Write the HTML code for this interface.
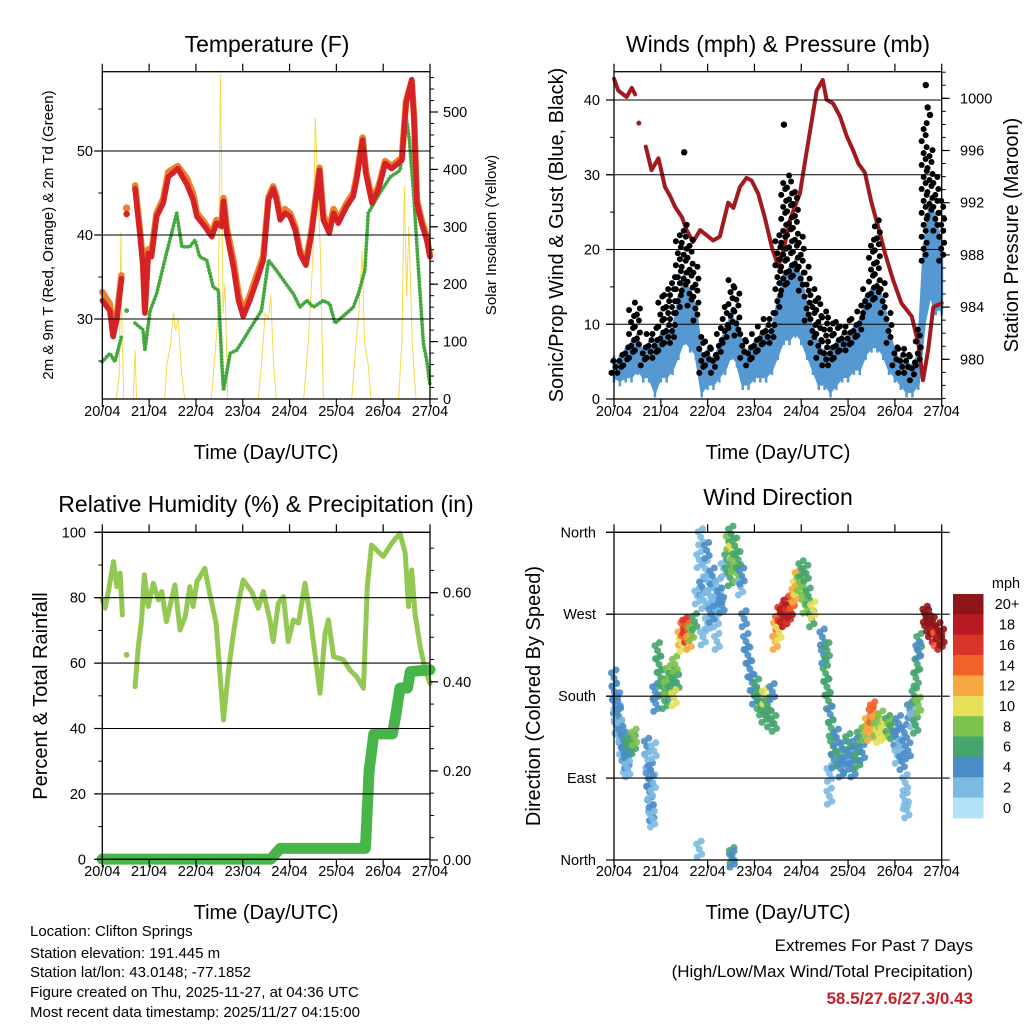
<!DOCTYPE html>
<html><head><meta charset="utf-8"><style>
html,body{margin:0;padding:0;background:#fff;}
svg{display:block;font-family:"Liberation Sans",Arial,sans-serif;}
</style></head><body>
<svg id="fig" width="1024" height="1024" viewBox="0 0 1024 1024" xmlns="http://www.w3.org/2000/svg">
<rect width="1024" height="1024" fill="#fff"/>
<text x="267" y="52" font-size="23" text-anchor="middle">Temperature (F)</text>
<text x="778" y="52" font-size="23" text-anchor="middle">Winds (mph) &amp; Pressure (mb)</text>
<text x="266" y="512" font-size="23" text-anchor="middle">Relative Humidity (%) &amp; Precipitation (in)</text>
<text x="778" y="505" font-size="23" text-anchor="middle">Wind Direction</text>

<text transform="translate(53,235) rotate(-90)" font-size="15" text-anchor="middle">2m &amp; 9m T (Red, Orange) &amp; 2m Td (Green)</text>
<text transform="translate(496,235) rotate(-90)" font-size="15" text-anchor="middle">Solar Insolation (Yellow)</text>
<text transform="translate(563,235) rotate(-90)" font-size="20" text-anchor="middle">Sonic/Prop Wind &amp; Gust (Blue, Black)</text>
<text transform="translate(1018,235) rotate(-90)" font-size="20" text-anchor="middle">Station Pressure (Maroon)</text>
<text transform="translate(47,696) rotate(-90)" font-size="20" text-anchor="middle">Percent &amp; Total Rainfall</text>
<text transform="translate(540,696) rotate(-90)" font-size="20" text-anchor="middle">Direction (Colored By Speed)</text>

<text x="266" y="459" font-size="20" text-anchor="middle">Time (Day/UTC)</text>
<text x="778" y="459" font-size="20" text-anchor="middle">Time (Day/UTC)</text>
<text x="266" y="919" font-size="20" text-anchor="middle">Time (Day/UTC)</text>
<text x="778" y="919" font-size="20" text-anchor="middle">Time (Day/UTC)</text>

<g font-size="15">
<text x="30" y="936">Location: Clifton Springs</text>
<text x="30" y="958">Station elevation: 191.445 m</text>
<text x="30" y="977">Station lat/lon: 43.0148; -77.1852</text>
<text x="30" y="997">Figure created on Thu, 2025-11-27, at 04:36 UTC</text>
<text x="30" y="1017">Most recent data timestamp: 2025/11/27 04:15:00</text>
</g>
<g font-size="17" text-anchor="end">
<text x="973" y="951">Extremes For Past 7 Days</text>
<text x="973" y="977">(High/Low/Max Wind/Total Precipitation)</text>
<text x="973" y="1004" fill="#c8202a" font-weight="bold">58.5/27.6/27.3/0.43</text>
</g>
</svg>
<script>
// ---------- data ----------
const dayLabels = ["20/04","21/04","22/04","23/04","24/04","25/04","26/04","27/04"];
const tempTime = [0,0.16,0.23,0.31,0.41,0.47,0.52,0.56,0.70,0.80,0.87,0.91,0.98,1.05,1.16,1.30,1.41,1.61,1.80,1.94,2.02,2.19,2.34,2.44,2.55,2.59,2.66,2.80,2.91,3.01,3.15,3.30,3.44,3.55,3.65,3.72,3.80,3.90,4.01,4.12,4.22,4.35,4.47,4.64,4.72,4.85,4.94,5.04,5.22,5.36,5.43,5.56,5.63,5.76,5.90,6.04,6.18,6.40,6.49,6.61,6.66,6.72,6.82,6.93,7.0];
const tempRed = [32.2,31.0,27.9,29.9,34.8,null,42.5,null,45.5,40.2,36.2,30.7,37.8,37.4,42.2,43.8,46.9,47.9,46.1,44.2,42.2,41.0,39.8,41.4,41.0,44.0,40.2,36.2,32.2,30.3,32.2,34.6,37.0,44.2,45.5,44.2,41.8,42.6,42.2,40.6,37.8,36.4,40.2,47.7,41.8,40.2,42.6,41.4,43.4,44.6,46.5,51.3,47.3,43.8,45.4,48.5,47.9,48.9,55.7,58.5,53.7,43.8,41.4,39.4,37.4];
const tempOrange = [33.2,31.8,28.5,30.4,35.2,null,43.2,null,45.9,40.8,36.8,31.2,38.3,38.0,42.6,44.3,47.5,48.2,46.8,44.9,42.6,41.4,40.2,41.8,41.3,44.4,40.8,37.0,33.0,30.8,32.8,35.2,37.5,44.5,45.8,44.6,42.3,43.1,42.6,41.0,38.2,36.8,40.6,48.0,42.4,40.8,43.1,41.8,43.8,45.0,46.9,51.6,47.6,44.2,45.8,48.8,48.2,49.2,56.0,58.3,54.0,44.2,41.8,39.8,37.6];
const dewTime = [0,0.16,0.27,0.41,0.47,0.52,0.56,0.70,0.87,0.91,1.02,1.16,1.37,1.59,1.70,1.87,1.98,2.08,2.23,2.37,2.48,2.55,2.59,2.73,2.87,3.01,3.23,3.40,3.55,3.72,3.87,4.08,4.22,4.37,4.51,4.72,4.86,4.97,5.22,5.36,5.47,5.61,5.68,5.93,6.15,6.36,6.50,6.56,6.65,6.75,6.86,6.93,7.0];
const dewVal = [24.9,25.9,24.9,27.9,null,31.0,null,29.5,28.7,26.3,31.0,33.0,37.8,42.6,38.6,38.6,39.4,37.4,37.0,33.8,33.4,25.1,21.5,25.9,26.3,27.5,29.5,31.0,37.0,35.8,34.6,33.0,31.4,32.2,31.4,32.2,31.8,29.5,30.7,31.4,33.0,35.8,42.6,45.0,46.9,47.7,53.7,51.3,45.0,36.2,27.1,25.1,22.1];
const solarTime = [0,0.30,0.36,0.40,0.42,0.46,0.66,0.70,0.73,1.33,1.38,1.45,1.52,1.57,1.62,1.70,1.76,2.33,2.42,2.48,2.52,2.55,2.58,2.62,2.68,3.33,3.40,3.48,3.55,3.60,3.66,3.72,4.30,4.40,4.50,4.55,4.60,4.66,4.72,5.33,5.40,5.48,5.55,5.60,5.68,5.74,6.33,6.40,6.45,6.50,6.55,6.62,6.70,7.0];
const solarVal = [0,0,40,290,120,0,0,85,0,0,60,90,150,120,140,40,0,0,90,160,565,400,150,200,0,0,60,150,140,180,60,0,0,100,250,490,380,250,0,0,80,150,258,100,60,0,0,100,370,180,300,100,0,0];

const windLo = [3,2.5,3,3,4,3,3,1,3,3,4,6,8,7,6,1,2,2,3,4,6,5,2,2,3,3,3,4,6,8,8,9,8,6,4,2,2,1,2,3,3,4,4,6,7,7,6,4,3,2,1,1,2,10,14,12,12];
const windHi = [5,5,6,7,8,6,7,7,8,9,9,13,16,14,12,5,6,5,7,9,11,10,7,6,7,8,9,9,13,16,17,18,16,12,9,7,6,6,7,8,8,9,10,13,14,15,13,9,6,5,5,4,6,20,26,24,20];
const gustMax = [5.5,6.5,7,12,13,7,9,10,14,15,17,22,24,22,18,9,8,7,10,13,16,15,9,8,9,10,11,12,22,29,30,28,22,18,15,14,12,11,11,10,11,11,13,15,22,24,16,12,7,7,7,6,10,37,34,30,27];
const gustOutTime = [1.5,3.63,6.66,6.70,6.75];
const gustOutVal = [33,36.7,42,39,38];
const presTime = [0,0.09,0.27,0.38,0.45,0.49,0.53,0.57,0.68,0.80,0.95,1.09,1.20,1.30,1.45,1.55,1.69,1.84,2.12,2.26,2.44,2.55,2.69,2.83,2.94,3.08,3.22,3.37,3.51,3.62,3.76,3.97,4.11,4.33,4.46,4.54,4.68,4.83,4.97,5.11,5.22,5.36,5.50,5.64,5.79,5.96,6.14,6.36,6.50,6.60,6.71,6.82,7.0];
const presVal = [1001.5,1000.6,1000.1,1000.8,1000.3,null,998.1,null,996.3,994.5,995.4,993.2,992.5,991.7,990.9,989.9,989.0,989.9,989.1,989.4,992.0,991.6,993.2,993.9,993.7,992.7,990.9,988.6,987.1,988.4,990.7,992.7,995.8,1000.6,1001.4,999.9,999.6,998.6,997.1,996.0,995.0,994.3,992.0,990.2,988.1,986.1,984.3,983.3,981.2,978.4,980.7,984.0,984.3];

const rhTime = [0,0.06,0.13,0.24,0.31,0.38,0.43,0.48,0.52,0.56,0.70,0.77,0.84,0.90,0.98,1.09,1.20,1.27,1.37,1.55,1.66,1.77,1.87,1.94,2.02,2.19,2.30,2.43,2.59,2.69,2.80,2.91,3.01,3.19,3.33,3.44,3.58,3.65,3.76,3.87,3.97,4.08,4.19,4.33,4.44,4.65,4.76,4.83,4.94,5.15,5.29,5.43,5.58,5.66,5.75,6.00,6.18,6.36,6.47,6.54,6.61,6.68,6.79,6.90,7.0];
const rhVal = [79.3,76.8,81.9,91.0,83.4,87.5,74.7,null,62.5,null,52.8,65.0,73.2,87.0,77.3,84.4,79.3,81.9,72.7,83.9,70.1,74.2,83.4,77.3,84.9,89.0,80.8,72.2,42.6,56.9,69.1,78.8,85.4,81.9,76.8,81.9,73.2,66.6,78.3,80.3,66.6,73.2,72.2,84.4,74.2,50.8,69.1,73.2,62.0,61.0,57.9,55.9,52.3,83.4,96.1,92.6,96.6,99.7,93.6,77.3,88.5,75.2,65.0,57.9,53.8];
const precipTime = [0,3.6,3.8,5.62,5.70,5.80,6.20,6.26,6.36,6.52,6.58,7.0];
const precipVal = [0.002,0.002,0.026,0.026,0.20,0.283,0.283,0.32,0.386,0.386,0.423,0.427];

const dirTime = [0.00,0.01,0.03,0.05,0.06,0.08,0.10,0.13,0.15,0.16,0.20,0.21,0.24,0.26,0.30,0.33,0.41,0.43,0.27,0.29,0.70,0.72,0.74,0.76,0.78,0.80,0.82,0.83,0.78,0.85,0.88,0.89,0.93,0.96,1.00,1.04,1.08,1.12,1.16,1.20,1.24,1.30,1.34,1.28,1.42,1.45,1.48,1.52,1.55,1.58,1.60,1.65,1.72,1.78,1.82,1.85,1.88,1.92,1.95,1.98,2.02,2.06,2.10,2.14,2.18,2.22,2.26,2.30,2.34,2.00,1.90,2.20,2.08,2.42,2.45,2.48,2.50,2.52,2.55,2.58,2.62,2.65,2.70,2.73,2.52,2.52,1.82,2.78,2.82,2.86,2.90,2.95,3.00,3.05,3.10,3.15,3.20,3.22,3.28,3.32,3.38,3.42,3.44,3.46,3.50,3.55,3.52,3.60,3.64,3.68,3.72,3.76,3.80,3.85,3.88,3.92,3.96,4.00,4.05,4.10,4.08,4.15,4.22,4.25,4.45,4.48,4.52,4.55,4.58,4.62,4.55,4.60,4.60,4.64,4.68,4.70,4.75,4.80,4.85,4.90,4.95,5.00,5.05,5.10,5.15,5.20,5.25,5.30,5.35,5.42,5.46,5.50,5.53,5.56,5.60,5.65,5.70,5.75,5.80,5.85,5.90,5.95,6.02,6.05,6.08,6.12,6.15,6.20,6.22,6.22,6.25,6.28,6.32,6.38,6.42,6.45,6.48,6.52,6.50,6.44,6.50,6.65,6.68,6.72,6.76,6.80,6.84,6.88,6.92,6.96,7.00];
const dirDeg = [200,185,170,160,148,175,158,145,138,125,132,118,105,120,128,122,128,135,110,100,125,110,90,75,62,52,45,85,98,120,185,172,230,215,200,190,175,190,205,185,200,215,195,178,245,238,255,258,248,252,240,250,262,290,330,355,300,285,320,340,305,290,312,280,265,300,290,280,320,260,245,240,270,330,350,310,358,340,325,345,315,330,300,312,5,1,12,265,240,225,210,195,180,190,175,168,160,180,170,155,185,150,240,255,262,272,250,270,265,280,270,275,285,292,300,310,305,320,300,315,280,290,265,275,245,225,205,190,175,160,230,95,70,145,125,110,135,112,100,122,105,130,115,100,125,110,135,118,140,150,140,160,165,152,145,138,155,140,148,150,145,142,135,115,150,125,108,140,85,65,55,120,165,155,180,200,215,240,230,148,170,270,266,260,254,258,248,244,252,240,245];
const dirSpeed = [4,4,4,3,2,4,4,3,4,3,4,4,3,4,6,7,7,8,4,3,4,3,4,4,3,4,3,2,4,2,4,4,6,6,6,7,6,8,8,7,6,8,6,10,12,10,14,16,16,14,13,8,6,3,2,3,4,3,2,4,2,3,4,2,2,3,4,4,3,3,2,3,4,6,8,7,7,10,8,6,8,6,3,4,6,4,3,4,4,4,4,4,5,6,6,7,6,10,6,6,4,6,12,12,14,16,10,18,18,19,16,18,14,12,10,12,8,6,8,6,8,6,6,10,4,4,6,6,6,4,6,2,2,6,6,5,4,6,4,5,4,6,5,4,4,6,7,4,8,12,12,14,15,12,9,10,8,10,10,7,8,6,4,3,4,3,4,4,2,2,3,4,4,3,6,6,6,6,5,6,8,20,20,21,20,20,18,14,22,18,20];
const speedLabels = ["20+","18","16","14","12","10","8","6","4","2","0"];
const speedColors = ["#b3e1f7","#7cb9e3","#4a8dc6","#46a56e","#7cc24d","#e6e05a","#f6a842","#ef6329","#da3428","#b81c22","#8e1519"];

// ---------- helpers ----------
const NS = "http://www.w3.org/2000/svg";
const svg = document.getElementById("fig");
function lin(d0,d1,r0,r1){return v=>r0+(v-d0)*(r1-r0)/(d1-d0);}
function el(tag, attrs, parent){
  const e=document.createElementNS(NS,tag);
  for(const k in attrs) e.setAttribute(k,attrs[k]);
  (parent||svg).appendChild(e); return e;
}
function group(name){
  const g=el("g",{});
  
  
  return g;
}
function linePath(g, xs, ys, sx, sy, stroke, width, name, extra){
  let segs=[],cur=[];
  for(let i=0;i<xs.length;i++){
    if(ys[i]===null){ if(cur.length) segs.push(cur); cur=[]; }
    else cur.push([sx(xs[i]),sy(ys[i])]);
  }
  if(cur.length) segs.push(cur);
  let d="";
  segs.forEach(s=>{
    if(s.length===1){
      const c=el("circle",{cx:s[0][0],cy:s[0][1],r:width/2+0.5,fill:stroke},g);
      
      
    } else d+="M"+s.map(p=>p[0].toFixed(1)+","+p[1].toFixed(1)).join("L");
  });
  const p=el("path",Object.assign({d:d,fill:"none",stroke:stroke,"stroke-width":width,"stroke-linejoin":"round","stroke-linecap":"round"},extra||{}),g);
  
  
  return p;
}
function frame(x0,x1,y0,y1,name){
  const g=group(name);
  const r=el("rect",{x:x0,y:y0,width:x1-x0,height:y1-y0,fill:"none",stroke:"#000","stroke-width":1.3},g);
  
  
  return g;
}
function timeAxis(x0,x1,y0,y1,labY,name){
  const sx=lin(0,7,x0,x1);
  const g=group(name);
  dayLabels.forEach((lb,i)=>{
    const x=sx(i);
    el("line",{x1:x,x2:x,y1:y0,y2:y0-8,stroke:"#000","stroke-width":1.2},g);
    el("line",{x1:x,x2:x,y1:y1,y2:y1+8,stroke:"#000","stroke-width":1.2},g);
    const t=el("text",{x:x,y:labY,"font-size":14.5,"text-anchor":"middle"},g);
    t.textContent=lb;
    
    
  });
  return sx;
}
function yAxis(opts){
  const g=group(opts.name);
  opts.minors.forEach(v=>{
    const y=opts.scale(v);
    el("line",{x1:opts.x,x2:opts.x+opts.side*4,y1:y,y2:y,stroke:"#000","stroke-width":1},g);
  });
  opts.majors.forEach((v,i)=>{
    const y=opts.scale(v);
    el("line",{x1:opts.x,x2:opts.x+opts.side*8,y1:y,y2:y,stroke:"#000","stroke-width":1.2},g);
    if(opts.grid) el("line",{x1:opts.grid[0],x2:opts.grid[1],y1:y,y2:y,stroke:"#000","stroke-width":1.1},g);
    if(opts.labels){
      const t=el("text",{x:opts.labX,y:y+5,"font-size":14.5,"text-anchor":opts.anchor},g);
      t.textContent=opts.labels[i];
      
      
    }
  });
}
function range(a,b,s){const r=[];for(let v=a;v<=b+1e-9;v+=s)r.push(+v.toFixed(4));return r;}

// ---------- Panel 1: Temperature ----------
(function(){
  const X0=102.3,X1=430,Y0=71.7,Y1=399;
  const sx=lin(0,7,X0,X1), sy=lin(30,50,319,151), ss=lin(0,500,399,112);
  const g=group("temperature-panel");
  linePath(g,solarTime,solarVal,sx,ss,"#f8d94a",1,"solar-line");
  linePath(g,dewTime,dewVal,sx,sy,"#45a83f",3.8,"dewpoint-line",{"stroke-dasharray":"0.1 3.2"});
  linePath(g,tempTime,tempOrange,sx,sy,"#f07f2c",6.5,"temp-9m-line");
  linePath(g,tempTime,tempRed,sx,sy,"#d52227",5.5,"temp-2m-line");
  yAxis({name:"temperature-y-axis",x:X0,side:-1,scale:sy,majors:[30,40,50],minors:[25,35,45,55],labels:["30","40","50"],grid:[X0-8,X1],labX:93,anchor:"end"});
  yAxis({name:"solar-y-axis",x:X1,side:1,scale:ss,majors:[0,100,200,300,400,500],minors:range(0,560,20),labels:["0","100","200","300","400","500"],labX:443,anchor:"start"});
  timeAxis(X0,X1,Y0,Y1,416,"temperature-x-axis");
  frame(X0,X1,Y0,Y1,"temperature-plot-area");
})();

// ---------- Panel 2: Winds & Pressure ----------
(function(){
  const X0=614,X1=941.7,Y0=71.7,Y1=399;
  const sx=lin(0,7,X0,X1), sy=lin(0,40,399,100), sp=lin(980,1000,359.3,98.3);
  const g=group("winds-panel");
  const gg=group("gust-points");
  windLo.forEach((lo,i)=>{
    const t=i/8, hi=windHi[i], gm=gustMax[i];
    let k=0;
    for(let v=hi-1.5; v<=gm; v+=0.8){
      const off=[-2.5,1.5,-0.5,2.5][k%4];
      const c=el("circle",{cx:sx(t)+off,cy:sy(v),r:3,fill:"#000"},gg);
      
      
      k++;
    }
  });
  gustOutTime.forEach((t,i)=>{
    const c=el("circle",{cx:sx(t),cy:sy(gustOutVal[i]),r:3.2,fill:"#000"},gg);
    
    
  });
  let d="M";
  windHi.forEach((v,i)=>{d+=sx(i/8).toFixed(1)+","+sy(v).toFixed(1)+"L";});
  for(let i=windLo.length-1;i>=0;i--){d+=sx(i/8).toFixed(1)+","+sy(windLo[i]).toFixed(1)+(i?"L":"Z");}
  const band=el("path",{d:d,fill:"#5598d2",stroke:"#5598d2","stroke-width":3,"stroke-linejoin":"round"},g);
  
  
  windLo.forEach((lo,i)=>{
    const s=el("line",{x1:sx(i/8),x2:sx(i/8),y1:sy(lo-0.8),y2:sy(windHi[i]+0.8),stroke:"#5598d2","stroke-width":2.5},g);
    
    
  });
  linePath(g,presTime,presVal,sx,sp,"#a01a1e",4,"pressure-line");
  yAxis({name:"wind-y-axis",x:X0,side:-1,scale:sy,majors:[0,10,20,30,40],minors:[5,15,25,35],labels:["0","10","20","30","40"],grid:[X0-8,X1],labX:600,anchor:"end"});
  yAxis({name:"pressure-y-axis",x:X1,side:1,scale:sp,majors:[980,984,988,992,996,1000],minors:range(977,1002,1),labels:["980","984","988","992","996","1000"],labX:960,anchor:"start"});
  timeAxis(X0,X1,Y0,Y1,416,"winds-x-axis");
  frame(X0,X1,Y0,Y1,"winds-plot-area");
})();

// ---------- Panel 3: RH & Precip ----------
(function(){
  const X0=102.3,X1=430,Y0=532.3,Y1=859.3;
  const sx=lin(0,7,X0,X1), sy=lin(0,100,859.3,532.3), sp=lin(0,0.6,860,592.7);
  const g=group("humidity-panel");
  linePath(g,rhTime,rhVal,sx,sy,"#93c953",5,"humidity-line");
  linePath(g,precipTime,precipVal,sx,sp,"#47b548",11,"precip-line");
  yAxis({name:"humidity-y-axis",x:X0,side:-1,scale:sy,majors:[0,20,40,60,80,100],minors:[10,30,50,70,90],labels:["0","20","40","60","80","100"],grid:[X0-8,X1],labX:86,anchor:"end"});
  yAxis({name:"precip-y-axis",x:X1,side:1,scale:sp,majors:[0,0.2,0.4,0.6],minors:range(0,0.7,0.05),labels:["0.00","0.20","0.40","0.60"],labX:443,anchor:"start"});
  timeAxis(X0,X1,Y0,Y1,876,"humidity-x-axis");
  frame(X0,X1,Y0,Y1,"humidity-plot-area");
})();

// ---------- Panel 4: Wind direction ----------
(function(){
  const X0=614,X1=941.7,Y0=532.3,Y1=860;
  const sx=lin(0,7,X0,X1), sy=lin(0,360,860,532.3);
  const g=group("direction-points");
  const offs=[[0,0],[-2.5,-5],[2.5,5],[2,-8],[-2,8]];
  dirTime.forEach((t,i)=>{
    const idx=Math.max(0,Math.min(10,Math.floor(dirSpeed[i]/2)));
    offs.forEach(o=>{
      const c=el("circle",{cx:sx(t)+o[0],cy:sy(dirDeg[i])+o[1],r:3.5,fill:speedColors[idx],"fill-opacity":0.9},g);
      
      
    });
  });
  yAxis({name:"direction-y-axis",x:X0,side:-1,scale:sy,majors:[0,90,180,270,360],minors:[],labels:["North","East","South","West","North"],grid:[X0-8,X1+8],labX:596,anchor:"end"});
  timeAxis(X0,X1,Y0,Y1,876,"direction-x-axis");
  frame(X0,X1,Y0,Y1,"direction-plot-area");
  const cb=group("speed-colorbar");
  const top=594, h=(818-594)/11;
  speedLabels.forEach((lb,i)=>{
    const r=el("rect",{x:953,y:top+i*h,width:30.5,height:h+0.3,fill:speedColors[10-i]},cb);
    
    
    const t=el("text",{x:1007,y:top+i*h+h/2+5,"font-size":14.5,"text-anchor":"middle"},cb);
    t.textContent=lb;
    
    
  });
  const mt=el("text",{x:1006,y:588,"font-size":14.5,"text-anchor":"middle"},cb);
  mt.textContent="mph";
  
  
})();
</script>
</body></html>
